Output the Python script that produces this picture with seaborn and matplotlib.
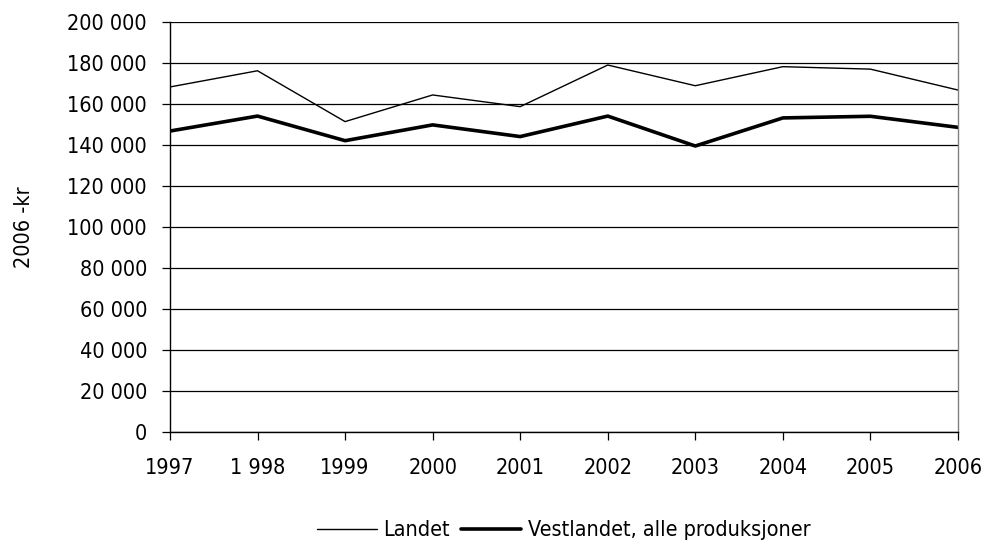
import matplotlib
matplotlib.use("Agg")
import matplotlib.pyplot as plt
import seaborn as sns
import pandas as pd

# data
years = [1997, 1998, 1999, 2000, 2001, 2002, 2003, 2004, 2005, 2006]
year_labels = ["1997", "1 998", "1999", "2000", "2001", "2002", "2003", "2004", "2005", "2006"]
landet = [168300, 176200, 151400, 164400, 158700, 179000, 168900, 178200, 177000, 166800]
vestlandet = [146800, 154100, 142100, 149800, 144100, 154100, 139500, 153200, 154000, 148600]
y_ticks = list(range(0, 200001, 20000))
y_labels = ["0"] + [f"{v // 1000} 000" for v in y_ticks[1:]]

sns.set_theme(style="white")
plt.rcParams["font.family"] = ["DejaVu Sans"]
plt.rcParams["font.stretch"] = "condensed"
plt.rcParams["text.color"] = "black"

fig = plt.figure(figsize=(9.87, 5.44), dpi=100)
ax = fig.add_axes([0.1722, 0.2059, 0.7984, 0.7537])

df = pd.DataFrame({"year": years, "Landet": landet, "Vestlandet": vestlandet})
sns.lineplot(data=df, x="year", y="Landet", color="black", linewidth=1.0,
             label="Landet", ax=ax)
sns.lineplot(data=df, x="year", y="Vestlandet", color="black", linewidth=2.6,
             label="Vestlandet, alle produksjoner", ax=ax)

ax.set_xlim(1997, 2006)
ax.set_ylim(0, 200000)
ax.set_yticks(y_ticks)
ax.set_yticklabels(y_labels)
ax.set_xticks(years)
ax.set_xticklabels(year_labels)
ax.yaxis.grid(True, color="black", linewidth=0.9)
ax.xaxis.grid(False)
ax.set_axisbelow(True)

ax.tick_params(axis="both", which="major", direction="out", length=5.5, width=0.9,
               color="black", labelcolor="black", labelsize=15.5, bottom=True, left=True)
ax.tick_params(axis="y", pad=11)
ax.tick_params(axis="x", pad=13)
for name in ["left", "bottom"]:
    ax.spines[name].set_color("black")
    ax.spines[name].set_linewidth(1.0)
ax.spines["right"].set_color("#808080")
ax.spines["right"].set_linewidth(1.0)
ax.spines["top"].set_visible(False)

ax.set_xlabel("")
ax.set_ylabel("2006 -kr", fontsize=15.5, color="black")
ax.yaxis.set_label_coords(-0.172, 0.5)

ax.get_legend().remove()
handles, labels = ax.get_legend_handles_labels()
fig.legend(handles, labels, loc="center", bbox_to_anchor=(0.571, 0.025), ncol=2,
           frameon=False, fontsize=15.5, handlelength=2.8, handletextpad=0.3,
           columnspacing=0.5, borderpad=0.1)

fig.savefig("out.png", dpi=100)
